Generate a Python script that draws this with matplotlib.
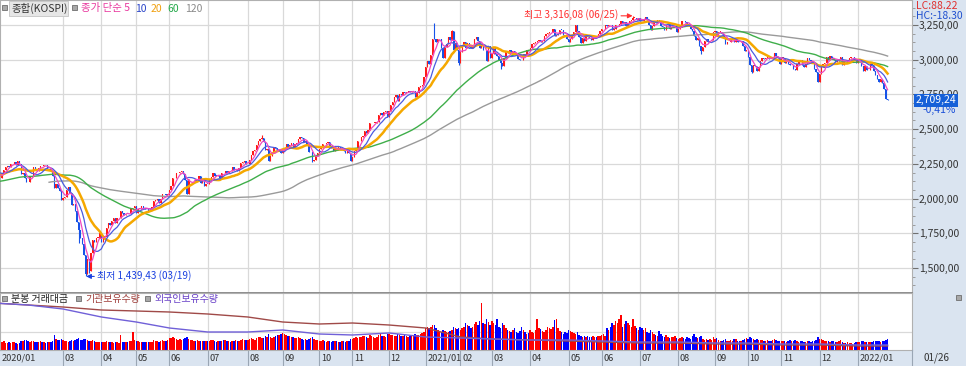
import numpy as np
import pandas as pd
import matplotlib
matplotlib.use("Agg")
import matplotlib.pyplot as plt
from matplotlib.patches import Rectangle
from matplotlib.ticker import FuncFormatter, MultipleLocator
from matplotlib.transforms import blended_transform_factory

plt.rcParams["font.family"] = ["Noto Sans CJK KR", "DejaVu Sans"]

# ---------------------------------------------------------------------------
# Data (KOSPI daily)
# ---------------------------------------------------------------------------

# weekdays the exchange was closed inside the window
krx_holidays = [
    "2019-09-12", "2019-09-13", "2019-10-03", "2019-10-09", "2019-12-25", "2019-12-31",
    "2020-01-01", "2020-01-24", "2020-01-27", "2020-04-15", "2020-04-30", "2020-05-01",
    "2020-05-05", "2020-08-17", "2020-09-30", "2020-10-01", "2020-10-02", "2020-10-09",
    "2020-12-25", "2020-12-31", "2021-01-01", "2021-02-11", "2021-02-12", "2021-03-01",
    "2021-05-05", "2021-05-19", "2021-08-16", "2021-09-20", "2021-09-21", "2021-09-22",
    "2021-10-04", "2021-10-11", "2021-12-31",
]

# history loaded before the visible window (feeds the moving averages)
closes_2019 = [
    1948, 1916, 1940, 1961, 1933, 1967,
    1969, 1965, 1988, 2004, 2009, 2020, 2032, 2049, 2062, 2051, 2070, 2080, 2091, 2101,
    2091, 2074, 2050, 2049, 2063,
    2031, 2031, 2020, 1998, 2047, 2045, 2045, 2067, 2068, 2082, 2077, 2061, 2085, 2089,
    2082, 2088, 2093, 2094, 2080, 2080, 2083,
    2100, 2130, 2142, 2144, 2144, 2137, 2124, 2140, 2123, 2139, 2162, 2160, 2143, 2125,
    2096, 2101, 2122, 2121, 2121, 2101, 2087,
    2084, 2068, 2068, 2064, 2081, 2087, 2098, 2105, 2122, 2137, 2170, 2196, 2190, 2195,
    2205, 2203, 2204, 2197, 2204, 2197,
]

closes_2020 = [
    2175, 2176, 2155, 2175, 2151, 2186, 2206, 2229, 2238, 2230, 2248, 2250, 2262, 2239,
    2267, 2246, 2176, 2185, 2148, 2119,
    2118, 2157, 2166, 2227, 2211, 2201, 2223, 2238, 2232, 2243, 2242, 2208, 2210, 2195,
    2162, 2079, 2103, 2076, 2054, 1987,
    2002, 2014, 2059, 2085, 2040, 1954, 1962, 1908, 1834, 1771, 1714, 1672, 1591, 1457,
    1566, 1482, 1609, 1704, 1686, 1717, 1717, 1754,
    1685, 1725, 1725, 1791, 1823, 1807, 1840, 1860, 1825, 1857, 1857, 1914, 1898, 1879,
    1890, 1889, 1889, 1922, 1934, 1947,
    1895, 1928, 1928, 1945, 1935, 1922, 1924, 1912, 1927, 1937, 1980, 1989, 1999, 1970,
    1994, 2030, 2031, 2028, 2029,
    2065, 2087, 2147, 2151, 2181, 2184, 2188, 2195, 2176, 2132, 2030, 2138, 2141, 2141,
    2141, 2126, 2131, 2161, 2112, 2134, 2093, 2108,
    2106, 2135, 2152, 2187, 2165, 2164, 2168, 2150, 2186, 2183, 2201, 2183, 2201, 2198,
    2228, 2207, 2216, 2201, 2217, 2256, 2264, 2267, 2249,
    2251, 2279, 2311, 2342, 2351, 2386, 2418, 2432, 2437, 2407, 2348, 2360, 2274, 2304,
    2329, 2369, 2366, 2344, 2353, 2326,
    2349, 2363, 2395, 2368, 2384, 2401, 2375, 2396, 2397, 2428, 2443, 2435, 2406, 2412,
    2389, 2332, 2333, 2272, 2278, 2308, 2327,
    2358, 2365, 2395, 2391, 2403, 2404, 2380, 2361, 2341, 2358, 2353, 2370, 2356, 2360,
    2343, 2330, 2345, 2326, 2267,
    2300, 2343, 2357, 2413, 2416, 2447, 2452, 2485, 2475, 2493, 2543, 2543, 2545, 2547,
    2553, 2602, 2617, 2601, 2625, 2633, 2591,
    2634, 2675, 2696, 2731, 2745, 2700, 2755, 2746, 2770, 2762, 2766, 2772, 2771, 2772,
    2778, 2733, 2759, 2806, 2808, 2820, 2873,
]

closes_2021 = [
    2944, 2990, 2968, 3031, 3152, 3148, 3125, 3148, 3149, 3085, 3013, 3092, 3114, 3160,
    3140, 3208, 3069, 3122, 3069, 2976,
    3056, 3096, 3129, 3087, 3120, 3092, 3084, 3100, 3147, 3163, 3133, 3086, 3107, 3070,
    3070, 2994, 3099, 3013,
    3043, 3082, 3043, 3026, 2996, 2976, 2958, 3013, 3054, 3045, 3067, 3047, 3066, 3039,
    3035, 3004, 2996, 2995, 3041, 3036, 3071, 3061,
    3087, 3112, 3120, 3127, 3137, 3143, 3131, 3135, 3169, 3182, 3194, 3198, 3198, 3220,
    3171, 3177, 3186, 3217, 3215, 3181, 3174, 3147,
    3127, 3147, 3178, 3197, 3249, 3209, 3161, 3122, 3153, 3134, 3173, 3162, 3156, 3144,
    3162, 3166, 3165, 3188, 3204,
    3221, 3224, 3248, 3240, 3252, 3247, 3216, 3224, 3249, 3253, 3259, 3278, 3264, 3268,
    3240, 3263, 3276, 3286, 3302, 3302, 3286, 3297,
    3282, 3281, 3293, 3305, 3285, 3252, 3217, 3246, 3271, 3264, 3286, 3276, 3244, 3232,
    3216, 3250, 3254, 3224, 3232, 3236, 3243, 3202,
    3223, 3237, 3280, 3276, 3270, 3260, 3243, 3220, 3208, 3171, 3143, 3158, 3097, 3060,
    3090, 3138, 3146, 3128, 3133, 3144, 3199,
    3207, 3175, 3201, 3203, 3187, 3162, 3114, 3125, 3127, 3148, 3153, 3130, 3140, 3127,
    3125, 3133, 3097, 3060, 3068,
    3019, 2962, 2908, 2959, 2956, 2916, 2944, 2988, 3015, 3006, 3013, 3013, 3007, 3006,
    3020, 3049, 3025, 3009, 2970,
    3013, 3014, 2975, 2983, 2969, 2960, 2962, 2930, 2924, 2968, 2999, 2997, 2962, 2947,
    2971, 3013, 2997, 2994, 2980, 2936, 2909, 2839,
    2899, 2945, 2968, 2973, 3018, 3001, 3029, 3010, 3001, 2987, 2989, 3006, 3018, 2963,
    2984, 2983, 2998, 3012, 3020, 3020, 2999, 2977,
]

closes_2022 = [
    2989, 2990, 2953, 2920, 2954, 2926, 2927, 2972, 2962, 2921, 2890, 2864, 2842, 2862,
    2834, 2792, 2720.39, 2709.24,
]

# intraday extremes that show as visible wicks
wick_high = {"2021-06-25": 3316.08, "2021-01-11": 3266.23, "2020-08-13": 2458.17,
             "2021-01-25": 3213.0, "2021-07-06": 3310.0, "2021-05-10": 3252.0}
wick_low = {"2020-03-19": 1439.43, "2020-03-23": 1466.0, "2020-03-13": 1680.6,
            "2021-03-09": 2930.0, "2021-08-20": 3044.0, "2021-10-06": 2901.0,
            "2020-09-24": 2261.0, "2021-01-29": 2960.0}

# trading value (thousands)
vol_2020 = [
    420, 380, 450, 400, 470, 430, 500, 390, 410, 450, 380, 420, 440, 400, 360, 410, 520, 480, 540, 560,
    500, 470, 520, 480, 430, 420, 450, 480, 430, 420, 400, 460, 420, 450, 520, 820, 600, 560, 580, 620,
    560, 520, 480, 470, 500, 560, 520, 580, 600, 640, 560, 540, 600, 620, 580, 520, 500, 540, 480, 460,
    440, 430,
    460, 470, 420, 480, 450, 420, 440, 400, 420, 430, 410, 830, 470, 440, 460, 450, 480, 520, 1000, 560,
    500, 480, 440, 470, 460, 430, 450, 420, 440, 460, 560, 520, 500, 470, 480, 560, 520, 500, 540,
    640, 680, 720, 640, 600, 580, 620, 560, 600, 640, 700, 620, 560, 540, 520, 500, 560, 520, 480, 500,
    520, 480,
    520, 500, 560, 540, 480, 460, 500, 520, 480, 540, 560, 500, 480, 460, 520, 500, 540, 480, 520, 560,
    620, 580, 540,
    560, 600, 640, 620, 580, 660, 700, 720, 680, 640, 760, 700, 880, 740, 680, 700, 760, 820, 860, 900,
    940, 880, 860, 800, 760, 720, 700, 680, 660, 700, 640, 620, 580, 600, 560, 620, 660, 700, 600, 560,
    540,
    520, 500, 540, 480, 460, 500, 480, 460, 520, 480, 500, 460, 440, 480, 500, 460, 480, 520, 600,
    620, 660, 700, 680, 720, 740, 760, 800, 700, 680, 840, 760, 720, 680, 700, 820, 900, 780, 760, 700,
    880,
    900, 860, 820, 780, 800, 900, 840, 780, 760, 820, 780, 740, 760, 800, 820, 900, 860, 820, 880, 940,
    1000,
]

vol_2021 = [
    1200, 1300, 1250, 1280, 1380, 1400, 1250, 1100, 1050, 1000, 1100, 1050, 980, 1000, 1050, 1100, 1300,
    1200, 1150, 1250,
    1100, 1200, 1300, 1500, 1400, 1350, 1250, 1300, 1450, 1550, 1400, 1600, 2600, 1500, 1450, 1700, 1550,
    1400,
    1600, 1500, 1400, 1700, 1300, 1250, 1500, 1400, 1200, 1100, 1050, 1000, 1100, 1200, 1000, 950, 1050,
    1300, 1100, 1000, 900, 950,
    1100, 1000, 950, 1100, 1700, 1250, 1150, 1050, 1000, 1100, 1300, 1200, 1150, 1300, 1650, 1750, 1200,
    1050, 1000, 900, 1000, 950,
    1100, 1050, 1000, 950, 900, 1000, 850, 800, 750, 800, 700, 760, 720, 700, 800, 740, 720, 800, 760,
    850, 900, 800, 1200, 1100, 1300, 1500, 1400, 1600, 1500, 1700, 1950, 1300, 1450, 1600, 1500, 1400,
    1300, 1700, 1350, 1250, 1100,
    1300, 1200, 1100, 1250, 1000, 950, 1100, 1000, 900, 850, 800, 1050, 900, 800, 750, 850, 700, 650,
    750, 700, 800, 650,
    600, 650, 700, 650, 600, 700, 650, 600, 800, 900, 700, 650, 750, 800, 600, 550, 600, 550, 600, 580,
    700,
    600, 650, 560, 520, 500, 560, 600, 520, 480, 540, 500, 620, 600, 520, 480, 500, 560, 600, 650,
    620, 700, 680, 600, 560, 600, 550, 580, 540, 500, 520, 560, 520, 500, 540, 600, 560, 520, 500,
    500, 520, 480, 460, 500, 540, 500, 520, 560, 480, 460, 500, 520, 460, 440, 480, 520, 460, 500, 480,
    560, 700,
    620, 600, 560, 520, 500, 480, 460, 500, 480, 440, 460, 520, 560, 420, 400, 380, 420, 400, 380, 360,
    380, 420,
]

vol_2022 = [460, 440, 480, 500, 460, 440, 420, 460, 440, 480, 500, 520, 480, 460, 500, 480, 560, 600]

# one label per month from 2020/01 to 2022/01 ("" = no label / gridline)
month_labels = ["2020/01", "", "03", "04", "05", "06", "07", "08", "09", "10", "11", "12",
                "2021/01", "02", "03", "04", "05", "06", "07", "08", "09", "10", "11", "12",
                "2022/01"]

# holdings lines in the lower panel, one value per month start + last day
inst_hold = [470, 450, 430, 400, 390, 380, 360, 330, 280, 260, 270, 250, 220,
             130, 110, 100, 90, 80, 70, 70, 60, 60, 50, 50, 40, 40]
foreign_hold = [470, 450, 410, 330, 280, 220, 180, 180, 200, 160, 150, 170, 130,
                120, 110, 100, 100, 90, 80, 80, 70, 70, 60, 60, 50, 50]

# ---------------------------------------------------------------------------
# Derived series
# ---------------------------------------------------------------------------

dates = pd.bdate_range("2019-08-23", "2022-01-26")
dates = dates[~dates.isin(pd.to_datetime(krx_holidays))]
close = np.array(closes_2019 + closes_2020 + closes_2021 + closes_2022, dtype=float)
assert len(close) == len(dates), (len(close), len(dates))
n_pre = len(closes_2019)
pos = np.arange(len(close)) - n_pre
opens = np.r_[close[0], close[:-1]]
up = close >= opens
ma = {n: pd.Series(close).rolling(n).mean().values for n in (5, 10, 20, 60, 120)}

hi = np.maximum(opens, close)
lo = np.minimum(opens, close)
date_idx = {d.strftime("%Y-%m-%d"): i for i, d in enumerate(dates)}
for d, v in wick_high.items():
    hi[date_idx[d]] = v
for d, v in wick_low.items():
    lo[date_idx[d]] = v

volume = np.array(vol_2020 + vol_2021 + vol_2022, dtype=float) * 1000
vis_pos = pos[n_pre:]
assert len(volume) == len(vis_pos)
vis_up = up[n_pre:]

per = dates[n_pre:].to_period("M")
month_start = np.flatnonzero(np.r_[True, per[1:] != per[:-1]])
assert len(month_start) == len(month_labels)
hold_x = np.r_[month_start, len(vis_pos) - 1]

# ---------------------------------------------------------------------------
# Figure
# ---------------------------------------------------------------------------

W, H = 966, 366
RED, BLUE = "#ff1a1a", "#1652e8"
GRID = "#d9d9d9"
BAND = "#dae4f0"


def fbox(x0, y0, x1, y1):
    return [x0 / W, 1 - y1 / H, (x1 - x0) / W, (y1 - y0) / H]


fig = plt.figure(figsize=(W / 100, H / 100), dpi=100)
fig.patch.set_facecolor(BAND)

ax = fig.add_axes(fbox(0, 0, 912, 293))
axv = fig.add_axes(fbox(0, 293, 912, 350), sharex=ax)

for a in (ax, axv):
    a.set_facecolor("white")
    for s in a.spines.values():
        s.set_color("#b0b0b0")
        s.set_linewidth(0.8)
    for i, lab in zip(month_start, month_labels):
        if lab:
            a.axvline(i, color=GRID, lw=0.9, zorder=0)
ax.spines["bottom"].set_color("#8c8c8c")
ax.spines["bottom"].set_linewidth(1.4)

# --- price panel ---
ax.vlines(pos, lo, hi, colors=np.where(up, RED, BLUE), lw=0.8, zorder=2)
ax.bar(pos, np.maximum(np.abs(close - opens), 3.0), 0.72, bottom=np.minimum(opens, close),
       color=np.where(up, RED, BLUE), linewidth=0, zorder=2)

ax.plot(pos, ma[120], color="#9a9a9a", lw=1.0, zorder=3)
ax.plot(pos, ma[60], color="#3fae4a", lw=1.0, zorder=3)
ax.plot(pos, ma[20], color="#f5a800", lw=1.8, zorder=3)
ax.plot(pos, ma[10], color="#4a5ce0", lw=0.9, zorder=4)
ax.plot(pos, ma[5], color="#f048c0", lw=0.9, zorder=4)

ax.set_xlim(3.84, 527.0)
ax.set_ylim(1320, 3430)
ax.yaxis.tick_right()
ax.set_yticks(np.arange(1500, 3251, 250))
ax.yaxis.set_minor_locator(MultipleLocator(62.5))
ax.yaxis.set_major_formatter(FuncFormatter(lambda v, _: f"{v:,.2f}".replace(".", ",")))
ax.tick_params(axis="y", which="major", direction="out", length=4, width=0.8, color="#707070",
               labelsize=7.5, labelcolor="#333333", pad=1)
ax.tick_params(axis="y", which="minor", direction="out", length=2, width=0.6, color="#909090")
ax.tick_params(axis="x", which="both", bottom=False, labelbottom=False)
ax.grid(axis="y", color=GRID, lw=0.9, zorder=0)
ax.set_axisbelow(True)

i_hi = date_idx["2021-06-25"]
ax.annotate(f"최고 {wick_high['2021-06-25']:,.2f}".replace(".", ",") + " (06/25)",
            xy=(pos[i_hi] - 0.3, wick_high["2021-06-25"]), xytext=(358.5, wick_high["2021-06-25"]),
            ha="right", va="center", fontsize=7.2, color="#ff3030", zorder=6,
            arrowprops=dict(arrowstyle="-|>", color="#ff3030", lw=0.8, shrinkA=0, shrinkB=0,
                            mutation_scale=7))
i_lo = date_idx["2020-03-19"]
ax.annotate(f"최저 {wick_low['2020-03-19']:,.2f}".replace(".", ",") + " (03/19)",
            xy=(pos[i_lo] + 0.3, wick_low["2020-03-19"]), xytext=(59.5, wick_low["2020-03-19"]),
            ha="left", va="center", fontsize=7.2, color="#1a40e0", zorder=6,
            arrowprops=dict(arrowstyle="-|>", color="#1a40e0", lw=0.8, shrinkA=0, shrinkB=0,
                            mutation_scale=7))

# last price box on the right axis
yblend = blended_transform_factory(ax.transAxes, ax.transData)
last = close[-1]
ax.text(1.004, last, f"{last:,.2f}".replace(".", ","), transform=yblend, ha="left", va="center",
        fontsize=7.5, color="white", clip_on=False, zorder=7,
        bbox=dict(boxstyle="square,pad=0.15", facecolor="#1660d8", edgecolor="none"))
chg = (close[-1] / close[-2] - 1) * 100
ax.text(1.012, last - 72, f"{chg:.2f}%".replace(".", ","), transform=yblend, ha="left",
        va="center", fontsize=7.5, color="#1a4fd8", clip_on=False)

# --- lower panel ---
axv.bar(vis_pos, volume, 0.85, color=np.where(vis_up, "#ff0000", "#0000ff"), linewidth=0, zorder=2)
axv.set_ylim(0, 3.167e6)
axv.yaxis.tick_right()
axv.set_yticks([1e6])
axv.yaxis.set_major_formatter(FuncFormatter(lambda v, _: f"{v:,.0f}"))
axv.yaxis.set_minor_locator(MultipleLocator(5e5))
axv.tick_params(axis="y", which="major", direction="out", length=4, width=0.8, color="#707070",
                labelsize=7.5, labelcolor="#333333", pad=1)
axv.tick_params(axis="y", which="minor", direction="out", length=2, width=0.6, color="#909090")
axv.tick_params(axis="x", which="both", bottom=False, labelbottom=False)
axv.grid(axis="y", color=GRID, lw=0.9, zorder=0)
axv.set_axisbelow(True)

axh = axv.twinx()
axh.set_ylim(0, 570)
axh.axis("off")
axh.plot(hold_x, inst_hold, color="#a04a48", lw=1.0, zorder=3)
axh.plot(hold_x, foreign_hold, color="#7060d8", lw=1.0, zorder=3)

# date band under the panels
xblend = blended_transform_factory(axv.transData, axv.transAxes)
x_left = ax.get_xlim()[0]
for i, lab in zip(month_start, month_labels):
    if not lab:
        continue
    axv.plot([i, i], [-0.29, 0], color="#9aa6b4", lw=0.8, transform=xblend, clip_on=False)
    axv.text(max(i, x_left) + 0.9, -0.145, lab, transform=xblend, ha="left", va="center",
             fontsize=6.6, color="#333333")
fig.add_artist(plt.Line2D([912 / W, 912 / W], [0, 16 / H], color="#9aa6b4", lw=0.8))
fig.text(923 / W, 1 - 358 / H, "01/26", ha="left", va="center", fontsize=7.2, color="#333333")

# top-right readouts
fig.text(916 / W, 1 - 6 / H, "LC:88.22", ha="left", va="center", fontsize=7.5, color="#e03030")
fig.text(916 / W, 1 - 16 / H, "HC:-18.30", ha="left", va="center", fontsize=7.5, color="#2050d0")


def icon(x, y):
    fig.add_artist(Rectangle((x / W, 1 - (y + 5) / H), 5 / W, 5 / H, transform=fig.transFigure,
                             facecolor="#a8a8a8", edgecolor="#6e6e6e", lw=0.6))


# price legend
icon(2, 5)
fig.add_artist(Rectangle((9 / W, 1 - 16 / H), 59 / W, 15 / H, transform=fig.transFigure,
                         facecolor="#e6e6e6", edgecolor="#c4c4c4", lw=0.6))
fig.text(11 / W, 1 - 8.5 / H, "종합(KOSPI)", ha="left", va="center", fontsize=7.5, color="#333333")
icon(72, 5)
for x, s, c in [(81, "종가 단순 5", "#e8389e"), (135, "10", "#2a44c8"), (151, "20", "#f0a010"),
                (167, "60", "#22a848"), (185, "120", "#8a8a8a")]:
    fig.text(x / W, 1 - 8.5 / H, s, ha="left", va="center", fontsize=7.5, color=c)

# lower-panel legend
icon(2, 296)
fig.text(11 / W, 1 - 299 / H, "분봉 거래대금", ha="left", va="center", fontsize=7.2, color="#222222")
icon(76, 296)
fig.text(85 / W, 1 - 299 / H, "기관보유수량", ha="left", va="center", fontsize=7.2, color="#a0403c")
icon(145, 296)
fig.text(154 / W, 1 - 299 / H, "외국인보유수량", ha="left", va="center", fontsize=7.2, color="#6a42c8")
icon(956, 295)

fig.savefig("out.png", dpi=100, facecolor=fig.get_facecolor())
